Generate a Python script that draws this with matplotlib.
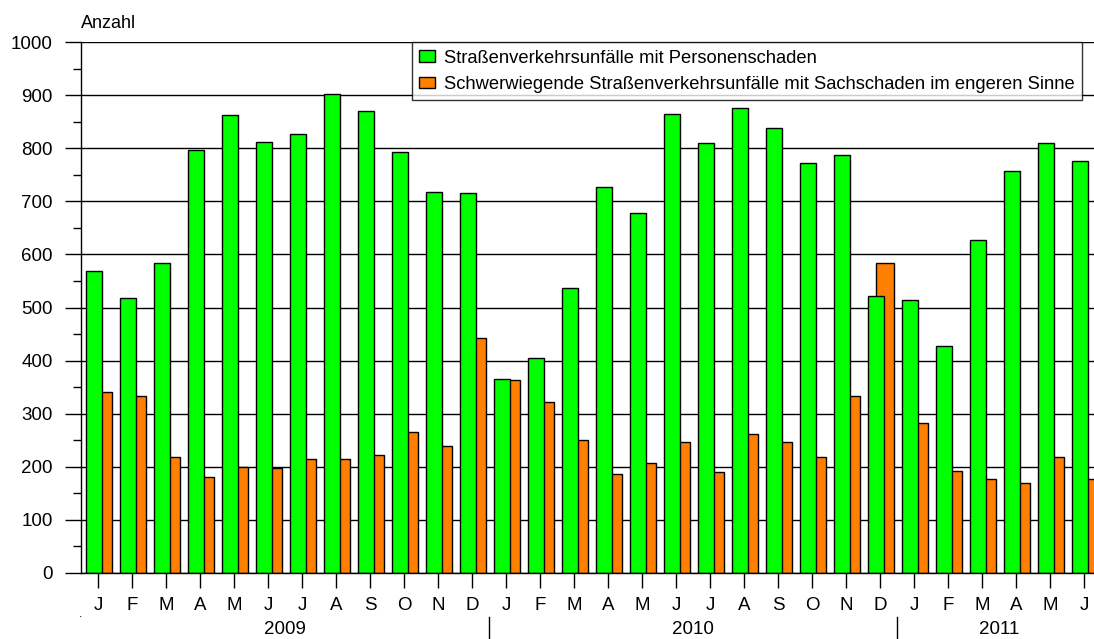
import matplotlib
matplotlib.use("Agg")
import matplotlib.pyplot as plt
import matplotlib.transforms as mtransforms
from matplotlib.ticker import MultipleLocator
import numpy as np

plt.rcParams['font.family'] = ['Liberation Sans', 'DejaVu Sans']

months = ["J", "F", "M", "A", "M", "J", "J", "A", "S", "O", "N", "D",
          "J", "F", "M", "A", "M", "J", "J", "A", "S", "O", "N", "D",
          "J", "F", "M", "A", "M", "J"]
years = ["2009", "2010", "2011"]
personenschaden = [569, 518, 584, 797, 863, 812, 827, 902, 870, 794, 717, 715,
                   366, 405, 536, 728, 678, 865, 811, 877, 838, 772, 787, 522,
                   514, 427, 627, 758, 811, 776]
sachschaden = [340, 333, 218, 181, 199, 197, 214, 214, 221, 265, 239, 442,
               363, 322, 250, 186, 206, 246, 189, 261, 246, 218, 333, 583,
               283, 191, 177, 170, 218, 177]
label_p = "Straßenverkehrsunfälle mit Personenschaden"
label_s = "Schwerwiegende Straßenverkehrsunfälle mit Sachschaden im engeren Sinne"

FS = 13.5
W, H = 1094, 639
fig = plt.figure(figsize=(W / 100, H / 100), dpi=100)
ax_left, ax_right = 81 / W, 1.0
ax_bottom = (H - 572.7) / H
ax_top = (H - 42.3) / H
ax = fig.add_axes([ax_left, ax_bottom, ax_right - ax_left, ax_top - ax_bottom])

x = np.arange(len(months))
green_w, orange_w = 0.47, 0.54
ax.bar(x - 0.13, sachschaden, width=orange_w, align='edge', color='#FF8000',
       edgecolor='black', linewidth=1.0, zorder=2, label=label_s)
ax.bar(x - 0.37, personenschaden, width=green_w, align='edge', color='#00FF00',
       edgecolor='black', linewidth=1.0, zorder=3, label=label_p)

ax.set_xlim(-0.51, 29.28)
ax.set_ylim(0, 1000)
ax.yaxis.set_major_locator(MultipleLocator(100))
ax.yaxis.set_minor_locator(MultipleLocator(50))
ax.grid(axis='y', which='major', color='black', linewidth=1.0, zorder=1)
ax.set_axisbelow(True)

for s in ['top', 'right', 'bottom']:
    ax.spines[s].set_visible(False)
ax.spines['left'].set_linewidth(1.0)

ax.tick_params(axis='y', which='major', length=11.5, width=1.0, pad=9,
               labelsize=FS, direction='out')
ax.tick_params(axis='y', which='minor', length=5.8, width=1.0, direction='out')
ax.set_xticks(x)
ax.set_xticklabels(months)
ax.tick_params(axis='x', which='major', length=10.8, width=1.0, pad=7,
               labelsize=FS, direction='out')
ax.axhline(0, color='black', linewidth=1.0, zorder=4, clip_on=False)

trans = mtransforms.blended_transform_factory(ax.transData, ax.transAxes)
for sep in [11.5, 23.5]:
    ax.plot([sep, sep], [-0.0835, -0.13], color='black', linewidth=1.0,
            transform=trans, clip_on=False)
year_centers = [5.5, 17.5, 26.5]
for yc, yl in zip(year_centers, years):
    ax.text(yc, -0.108, yl, transform=trans, ha='center', va='center', fontsize=FS)

fig.text(81 / W, 1 - 24 / H, "Anzahl", ha='left', va='center', fontsize=13)
fig.text(81 / W, 1 - 614 / H, ".", ha='center', va='center', fontsize=9)

handles, labels = ax.get_legend_handles_labels()
leg = ax.legend(handles[::-1], labels[::-1], loc='upper left',
                bbox_to_anchor=(412 / W, 1 - 42.3 / H), bbox_transform=fig.transFigure,
                fontsize=13.2, frameon=True, fancybox=False, shadow=False,
                borderpad=0.4, labelspacing=0.5, handlelength=0.87,
                handleheight=0.6, handletextpad=0.45, borderaxespad=0)
leg.get_frame().set_edgecolor('black')
leg.get_frame().set_linewidth(1.0)
leg.set_zorder(10)

fig.savefig("out.png", dpi=100)
